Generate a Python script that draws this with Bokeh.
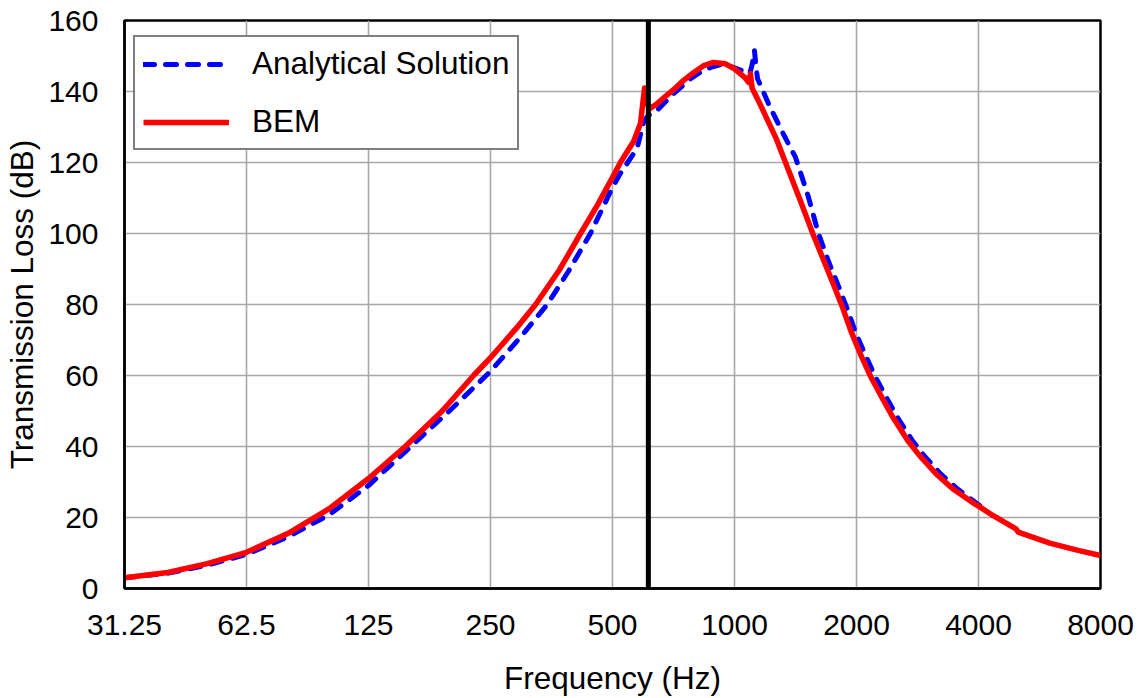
from bokeh.plotting import figure
from bokeh.models import Span, Legend, LegendItem, FixedTicker, Range1d
from bokeh.embed import file_html
from bokeh.resources import INLINE

# ---- data ----
freq_analytical = [31.25, 40, 50, 62.5, 80, 100, 125, 159, 200, 244, 250, 300, 345, 390,
                   441, 500, 520, 545, 575, 597, 613, 638, 707, 779, 824, 873, 930, 1000,
                   1060, 1090, 1105, 1120, 1130, 1140, 1213, 1300, 1414, 1520, 1611, 1709,
                   1809, 1897, 1988, 2106, 2228, 2381, 2520, 2745, 2932, 3225, 3544, 3970, 4107]
tl_analytical = [3.0, 4.3, 6.6, 9.6, 14.8, 20.8, 29.0, 40.0, 50.5, 60.0, 61.2, 71.5, 80.0, 89.5,
                 100.0, 113.0, 116.5, 120.0, 124.0, 131.5, 133.3, 134.2, 139.4, 143.6, 145.5, 146.8, 147.6, 146.7,
                 145.6, 145.0, 147.5, 151.5, 147.0, 143.6, 136.6, 129.5, 121.5, 110.5, 100.0, 91.9,
                 84.9, 78.8, 72.2, 65.6, 59.5, 53.4, 48.3, 41.7, 37.5, 32.3, 28.1, 23.9, 22.7]

freq_bem = [31.25, 40, 50, 62.5, 80, 100, 125, 154, 190, 227, 250, 290, 323, 370, 417, 460,
            500, 523, 564, 586, 600, 608, 620, 640, 670, 707, 750, 792, 840, 888, 950, 1000,
            1060, 1083, 1095, 1105, 1150, 1200, 1270, 1336, 1450, 1560, 1666, 1764, 1850, 1938,
            2053, 2172, 2321, 2457, 2676, 2859, 3145, 3455, 3870, 4000, 4350, 4950, 5010,
            6000, 7000, 8000]
tl_bem = [3.0, 4.5, 7.0, 10.2, 15.8, 22.5, 31.0, 40.0, 50.0, 60.0, 65.0, 73.4, 80.0, 89.8, 100.0, 108.2,
          115.8, 120.0, 126.0, 131.0, 141.0, 136.5, 135.3, 136.3, 138.3, 140.5, 143.2, 145.3, 147.3, 148.2, 147.8, 146.4,
          144.0, 142.6, 145.0, 141.0, 137.0, 132.5, 126.5, 120.0, 109.6, 100.0, 92.0, 85.0, 79.0, 72.5,
          65.6, 59.5, 53.4, 48.3, 41.7, 37.5, 32.3, 28.1, 24.2, 23.2, 20.5, 16.8, 15.9,
          12.8, 10.8, 9.3]

x_ticks = [31.25, 62.5, 125, 250, 500, 1000, 2000, 4000, 8000]
x_tick_labels = ["31.25", "62.5", "125", "250", "500", "1000", "2000", "4000", "8000"]
y_ticks = [0, 20, 40, 60, 80, 100, 120, 140, 160]
marker_freq = 613  # vertical black marker line (Hz)

FONT = "Liberation Sans"
TICK_FS = "30px"
TITLE_FS = "31.5px"

p = figure(width=1148, height=698, x_axis_type="log",
           x_range=Range1d(31.25, 8000), y_range=Range1d(0, 160),
           output_backend="svg", toolbar_location=None,
           min_border_left=124, min_border_right=48,
           min_border_top=20, min_border_bottom=110)

p.background_fill_color = "white"
p.border_fill_color = "white"
p.outline_line_color = "black"
p.outline_line_width = 2.5

p.xaxis.ticker = FixedTicker(ticks=x_ticks, minor_ticks=[])
p.xaxis.major_label_overrides = {t: l for t, l in zip(x_ticks, x_tick_labels)}
p.yaxis.ticker = FixedTicker(ticks=y_ticks, minor_ticks=[])

for ax in (p.xaxis, p.yaxis):
    ax.axis_line_color = "black"
    ax.axis_line_width = 2.5
    ax.major_tick_out = 0
    ax.major_tick_in = 0
    ax.minor_tick_out = 0
    ax.minor_tick_in = 0
    ax.major_label_text_font = FONT
    ax.major_label_text_font_size = TICK_FS
    ax.major_label_text_color = "black"
    ax.axis_label_text_font = FONT
    ax.axis_label_text_font_size = TITLE_FS
    ax.axis_label_text_font_style = "normal"
    ax.axis_label_text_color = "black"

p.xaxis.axis_label = "Frequency (Hz)"
p.yaxis.axis_label = "Transmission Loss (dB)"
p.xaxis.major_label_standoff = 26
p.xaxis.axis_label_standoff = 22
p.yaxis.major_label_standoff = 26
p.yaxis.axis_label_standoff = 5

for g in (p.xgrid, p.ygrid):
    g.grid_line_color = "#a8a8a8"
    g.grid_line_width = 1.6

r_blue = p.line(freq_analytical, tl_analytical, line_color="#0000ff", line_width=5,
                line_dash="11 11", line_cap="round", line_join="round")
r_red = p.line(freq_bem, tl_bem, line_color="#ff0000", line_width=5.5,
               line_join="round")

p.add_layout(Span(location=marker_freq, dimension="height", line_color="black", line_width=5))

legend = Legend(items=[LegendItem(label="Analytical Solution", renderers=[r_blue]),
                       LegendItem(label="BEM", renderers=[r_red])],
                location=(9, 438))
legend.margin = 0
legend.padding = 8
legend.spacing = 21
legend.glyph_width = 86
legend.glyph_height = 30
legend.label_height = 30
legend.label_standoff = 23
legend.label_text_font = FONT
legend.label_text_font_size = TITLE_FS
legend.label_text_color = "black"
legend.border_line_color = "black"
legend.border_line_width = 2.5
legend.background_fill_color = "white"
legend.background_fill_alpha = 1.0
p.add_layout(legend)

open("out.html", "w").write(file_html(p, INLINE))
